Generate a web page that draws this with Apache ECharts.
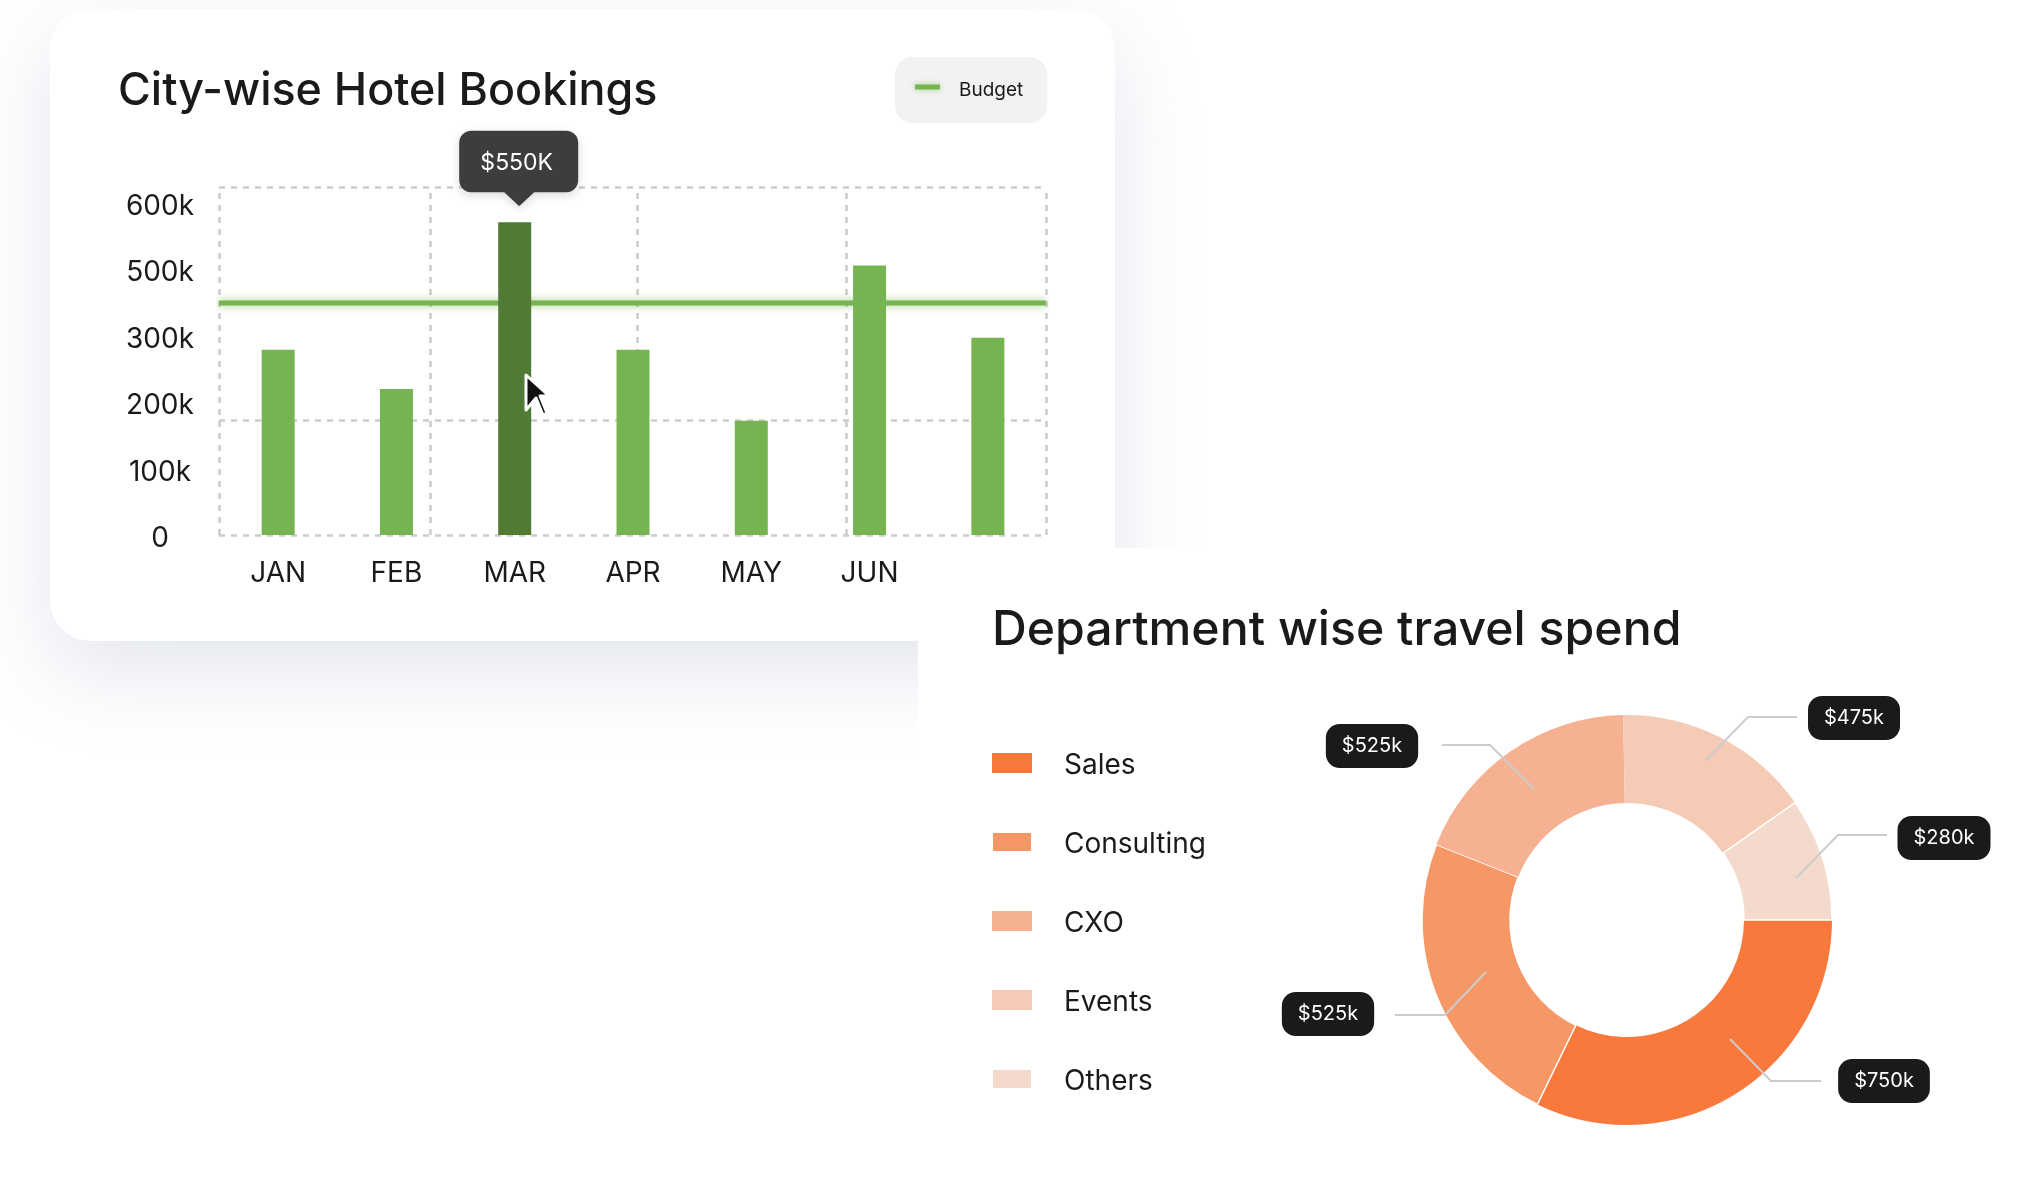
<!DOCTYPE html>
<html>
<head>
<meta charset="utf-8">
<title>Travel dashboard</title>
<script src="https://cdn.jsdelivr.net/npm/echarts@6/dist/echarts.min.js"></script>
<style>
  html, body { margin: 0; padding: 0; background: #fff; }
  #main { width: 2018px; height: 1195px; }
</style>
</head>
<body>
<div id="main"></div>
<script>
var months = ['JAN', 'FEB', 'MAR', 'APR', 'MAY', 'JUN', ''];
var bookings = [279, 220, 571, 279, 172, 506, 297];   // in k, read against the printed ticks
var budget = 399;
var highlightMonth = 'MAR';
var highlightText = '$550K';
// the source axis skips 400k, the labels are evenly spaced anyway
var yTicks = [0, 100, 200, 300, 500, 600];
var yTickLabels = ['0', '100k', '200k', '300k', '500k', '600k'];

var departments = ['Sales', 'Consulting', 'CXO', 'Events', 'Others'];
var spendShare = [32.2, 23.8, 18.7, 15.6, 9.7];       // % of the ring, printed amounts do not add up to it
var spendLabels = ['$750k', '$525k', '$525k', '$475k', '$280k'];
var spendColors = ['#f9793c', '#f69766', '#f6b192', '#f5cbb6', '#f4dacd'];

// ticks are evenly spaced, so map k values through them
function toSlot(v) {
  for (var i = 1; i < yTicks.length; i++) {
    if (v <= yTicks[i]) return i - 1 + (v - yTicks[i - 1]) / (yTicks[i] - yTicks[i - 1]);
  }
  return yTicks.length - 1;
}

var FONT = 'Inter';
var GREEN = '#75b450';
var gridStyle = { color: '#cccccc', width: 2.5, type: [6, 6] };
var SLOT_MAX = 5.241;
var X_END = 6.99;

// callout pill centre and leader line for each slice
var callouts = [
  { x: 1884, y: 1081, line: [[1730, 1039], [1771, 1081], [1821, 1081]] },
  { x: 1328, y: 1014, line: [[1486, 972], [1445, 1015], [1395, 1015]] },
  { x: 1372, y: 746, line: [[1534, 789], [1490, 745], [1442, 745]] },
  { x: 1854, y: 718, line: [[1706, 760], [1748, 717], [1797, 717]] },
  { x: 1944, y: 838, line: [[1796, 878], [1838, 835], [1887, 835]] }
];

var chart = echarts.init(document.getElementById('main'));
chart.setOption({
  animation: false,
  backgroundColor: '#ffffff',
  textStyle: { fontFamily: FONT },
  title: [
    { text: 'City-wise Hotel Bookings', left: 118, top: 69, padding: 0,
      textStyle: { fontFamily: FONT, fontSize: 44.8, fontWeight: 500, color: '#1a1a1a' } },
    { text: 'Department wise travel spend', left: 992, top: 607, padding: 0,
      textStyle: { fontFamily: FONT, fontSize: 48.2, fontWeight: 500, color: '#1a1a1a' } }
  ],
  legend: [
    { data: ['Budget'], left: 895, top: 57, orient: 'horizontal', icon: 'rect',
      itemWidth: 25, itemHeight: 5, padding: [23.5, 24, 23.5, 20], backgroundColor: '#f2f2f2', borderRadius: 18,
      selectedMode: false,
      itemStyle: { shadowColor: 'rgba(117,180,80,0.6)', shadowBlur: 6 },
      formatter: '{a|{name}}',
      textStyle: {
        rich: { a: { fontFamily: FONT, fontSize: 19, color: '#1a1a1a', padding: [6, 0, 0, 14] } }
      } },
    { data: departments, left: 991, top: 752, orient: 'vertical', icon: 'rect',
      itemWidth: 40, itemHeight: 20, itemGap: 51, padding: 0,
      selectedMode: false,
      formatter: '{a|{name}}',
      textStyle: {
        rich: { a: { fontFamily: FONT, fontSize: 28, color: '#1a1a1a', padding: [6, 0, 0, 27] } }
      } }
  ],
  grid: { left: 219, top: 187, width: 828, height: 348 },
  xAxis: [
    { type: 'category', data: months,
      axisLine: { show: false }, axisTick: { show: false }, splitLine: { show: false },
      axisLabel: { fontFamily: FONT, fontSize: 28, color: '#1a1a1a', margin: 25, interval: 0 } },
    { type: 'value', min: 0, max: 7, show: false, splitLine: { show: false } }
  ],
  yAxis: {
    type: 'value', min: 0, max: SLOT_MAX, interval: 1,
    axisLine: { show: false }, axisTick: { show: false }, splitLine: { show: false },
    axisLabel: {
      fontFamily: FONT, fontSize: 28, color: '#1a1a1a', margin: 59, align: 'center', showMaxLabel: false,
      verticalAlign: 'top', lineHeight: 28, padding: [-10.5, 0, 0, 0],
      formatter: function (v) { return yTickLabels[v] || ''; }
    }
  },
  series: [
    {
      name: 'Budget', type: 'line', xAxisIndex: 1, z: 1, symbol: 'none', silent: true,
      data: [[0, toSlot(budget)], [X_END, toSlot(budget)]],
      itemStyle: { color: GREEN },
      lineStyle: { color: GREEN, width: 5, shadowColor: 'rgba(117,180,80,0.75)', shadowBlur: 8 },
      markLine: {
        silent: true, symbol: 'none', label: { show: false }, z: 0,
        lineStyle: gridStyle,
        data: [
          { xAxis: 0 }, { xAxis: 1.792 }, { xAxis: 3.542 }, { xAxis: 5.3 }, { xAxis: X_END },
          { yAxis: 0 }, { yAxis: 1.732 }, { yAxis: SLOT_MAX - 0.01 }
        ]
      }
    },
    {
      name: 'Bookings', type: 'bar', z: 3, barWidth: 33, silent: true,
      data: months.map(function (m, i) {
        return {
          value: toSlot(bookings[i]),
          itemStyle: { color: m === highlightMonth ? '#517b35' : GREEN }
        };
      }),
      markPoint: {
        silent: true, z: 6,
        symbol: 'path://M12,0 H107 A12,12 0 0 1 119,12 V49 A12,12 0 0 1 107,61 H75 L61,74 Q60,75 59,74 L45,61 H12 A12,12 0 0 1 0,49 V12 A12,12 0 0 1 12,0 Z',
        symbolSize: [119, 75],
        symbolOffset: [4, -54],
        itemStyle: { color: '#3d3d3d', shadowColor: 'rgba(0,0,0,0.15)', shadowBlur: 10, shadowOffsetY: 3 },
        label: {
          show: true, formatter: highlightText, color: '#ffffff', fontFamily: FONT, fontSize: 23,
          position: 'inside', offset: [-2, -5]
        },
        data: [{ coord: [highlightMonth, toSlot(bookings[months.indexOf(highlightMonth)])] }]
      }
    },
    {
      name: 'Spend', type: 'pie', center: [1627, 920], radius: [117, 205], startAngle: 0, z: 3, silent: true,
      data: departments.map(function (d, i) {
        var edged = d === 'Consulting' || d === 'Others';
        return {
          name: d, value: spendShare[i],
          itemStyle: { color: spendColors[i], borderColor: '#ffffff', borderWidth: edged ? 1.5 : 0 }
        };
      }),
      label: {
        show: true, position: 'outside',
        formatter: function (p) { return spendLabels[p.dataIndex]; },
        color: '#ffffff', fontFamily: FONT, fontSize: 20, backgroundColor: '#1a1a1a',
        borderRadius: 14, padding: [12, 16]
      },
      labelLine: { show: false },
      labelLayout: function (p) {
        var c = callouts[p.dataIndex];
        return { x: c.x, y: c.y, align: 'center', verticalAlign: 'middle' };
      }
    }
  ],
  graphic: [
    { type: 'rect', z: -20, silent: true, shape: { x: 50, y: 9, width: 1065, height: 632, r: 40 },
      style: { fill: '#ffffff', shadowColor: 'rgba(140,150,185,0.24)', shadowBlur: 85, shadowOffsetY: 30 } },
    { type: 'rect', z: -10, silent: true, shape: { x: 918, y: 548, width: 1100, height: 647 },
      style: { fill: '#ffffff' } },
    { type: 'polygon', z: 50, silent: true,
      shape: { points: [[526, 375], [526, 410], [536, 398], [543, 415], [547, 413], [540, 396], [549, 396]] },
      style: { fill: '#111111', stroke: '#ffffff', lineWidth: 3, lineJoin: 'round' } }
  ].concat(callouts.map(function (c) {
    // leader lines start inside the ring, the pie's own labelLine stays under the sectors
    return { type: 'polyline', z: 10, silent: true, shape: { points: c.line },
      style: { fill: null, stroke: '#cccccc', lineWidth: 2 } };
  }))
});
</script>
</body>
</html>
